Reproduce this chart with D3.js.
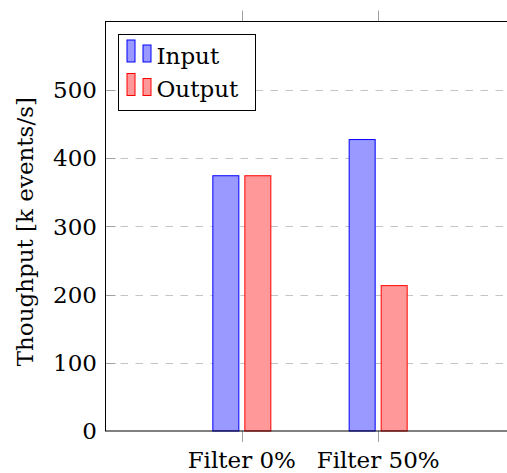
<!DOCTYPE html>
<html>
<head>
<meta charset="utf-8">
<script src="https://cdn.jsdelivr.net/npm/d3@7.9.0/dist/d3.min.js"></script>
<style>
  html, body { margin: 0; padding: 0; background: #fff; overflow: hidden; }
  text { font-family: "DejaVu Serif", "Liberation Serif", serif; font-size: 23px; fill: #000; }
</style>
</head>
<body>
<svg id="chart"></svg>
<script>
// data
const categories = ["Filter 0%", "Filter 50%"];
const series = ["Input", "Output"];
const inputValues = [374, 427];
const outputValues = [374, 213];
const yTicks = [0, 100, 200, 300, 400, 500];

const width = 507, height = 473;
const svg = d3.select("#chart").attr("width", width).attr("height", height);

const colors = {
  Input: { fill: "#9999ff", stroke: "#0000ff" },
  Output: { fill: "#ff9999", stroke: "#ff0000" }
};

// categories sit at 1 and 2 on a 0..3 axis, right edge runs off the page
const x = d3.scaleLinear().domain([0, 3]).range([105.5, 514.5]);
const y = d3.scaleLinear().domain([0, 600]).range([431, 21.5]);
const xs = d3.scaleBand().domain(series).range([-32, 32]);
const barWidth = 26;

const rows = [];
categories.forEach((c, i) => {
  rows.push({ cat: c, pos: i + 1, series: "Input", value: inputValues[i] });
  rows.push({ cat: c, pos: i + 1, series: "Output", value: outputValues[i] });
});

// dashed grid
svg.append("g")
  .selectAll("line")
  .data(yTicks.filter(d => d > 0))
  .enter().append("line")
  .attr("x1", x(0)).attr("x2", x(3))
  .attr("y1", d => Math.round(y(d)) + 0.5).attr("y2", d => Math.round(y(d)) + 0.5)
  .attr("stroke", "#c4c4c4")
  .attr("stroke-width", 1.2)
  .attr("stroke-dasharray", "7.5,7.5");

// y ticks, inside, gray
svg.append("g")
  .selectAll("line")
  .data(yTicks.filter(d => d > 0))
  .enter().append("line")
  .attr("x1", x(0)).attr("x2", x(0) + 10)
  .attr("y1", d => Math.round(y(d)) + 0.5).attr("y2", d => Math.round(y(d)) + 0.5)
  .attr("stroke", "#a0a0a0");

// bars
svg.append("g")
  .selectAll("rect")
  .data(rows)
  .enter().append("rect")
  .attr("x", d => x(d.pos) + xs(d.series) + xs.bandwidth() / 2 - barWidth / 2)
  .attr("y", d => y(d.value))
  .attr("width", barWidth)
  .attr("height", d => y(0) - y(d.value))
  .attr("fill", d => colors[d.series].fill)
  .attr("stroke", d => colors[d.series].stroke)
  .attr("stroke-width", 1);

// x ticks outside, top and bottom
const xt = svg.append("g");
categories.forEach((c, i) => {
  const px = Math.round(x(i + 1)) + 0.5;
  xt.append("line").attr("x1", px).attr("x2", px).attr("y1", y(600)).attr("y2", y(600) - 11).attr("stroke", "#a0a0a0");
  xt.append("line").attr("x1", px).attr("x2", px).attr("y1", y(0)).attr("y2", y(0) + 11).attr("stroke", "#a0a0a0");
});

// axis box
svg.append("rect")
  .attr("x", x(0)).attr("y", y(600))
  .attr("width", x(3) - x(0)).attr("height", y(0) - y(600))
  .attr("fill", "none").attr("stroke", "#000").attr("stroke-width", 1);

// tick labels
svg.append("g")
  .selectAll("text")
  .data(categories)
  .enter().append("text")
  .attr("x", (d, i) => x(i + 1))
  .attr("y", 467.5)
  .attr("text-anchor", "middle")
  .text(d => d);

svg.append("g")
  .selectAll("text")
  .data(yTicks)
  .enter().append("text")
  .attr("x", 97)
  .attr("y", d => y(d))
  .attr("dy", "0.36em")
  .attr("text-anchor", "end")
  .text(d => d);

svg.append("text")
  .attr("transform", "translate(33,231.7) rotate(-90)")
  .attr("text-anchor", "middle")
  .text("Thoughput [k events/s]");

// legend
const lg = svg.append("g");
lg.append("rect")
  .attr("x", 118.5).attr("y", 34.5).attr("width", 137).attr("height", 76)
  .attr("fill", "#fff").attr("stroke", "#000");
series.forEach((s, i) => {
  const base = 62 + i * 33.5;
  lg.append("rect").attr("x", 127).attr("y", base - 22).attr("width", 8).attr("height", 22)
    .attr("fill", colors[s].fill).attr("stroke", colors[s].stroke);
  lg.append("rect").attr("x", 143).attr("y", base - 17).attr("width", 8).attr("height", 17)
    .attr("fill", colors[s].fill).attr("stroke", colors[s].stroke);
  lg.append("text").attr("x", 156.5).attr("y", base + 1.5).text(s);
});
</script>
</body>
</html>
